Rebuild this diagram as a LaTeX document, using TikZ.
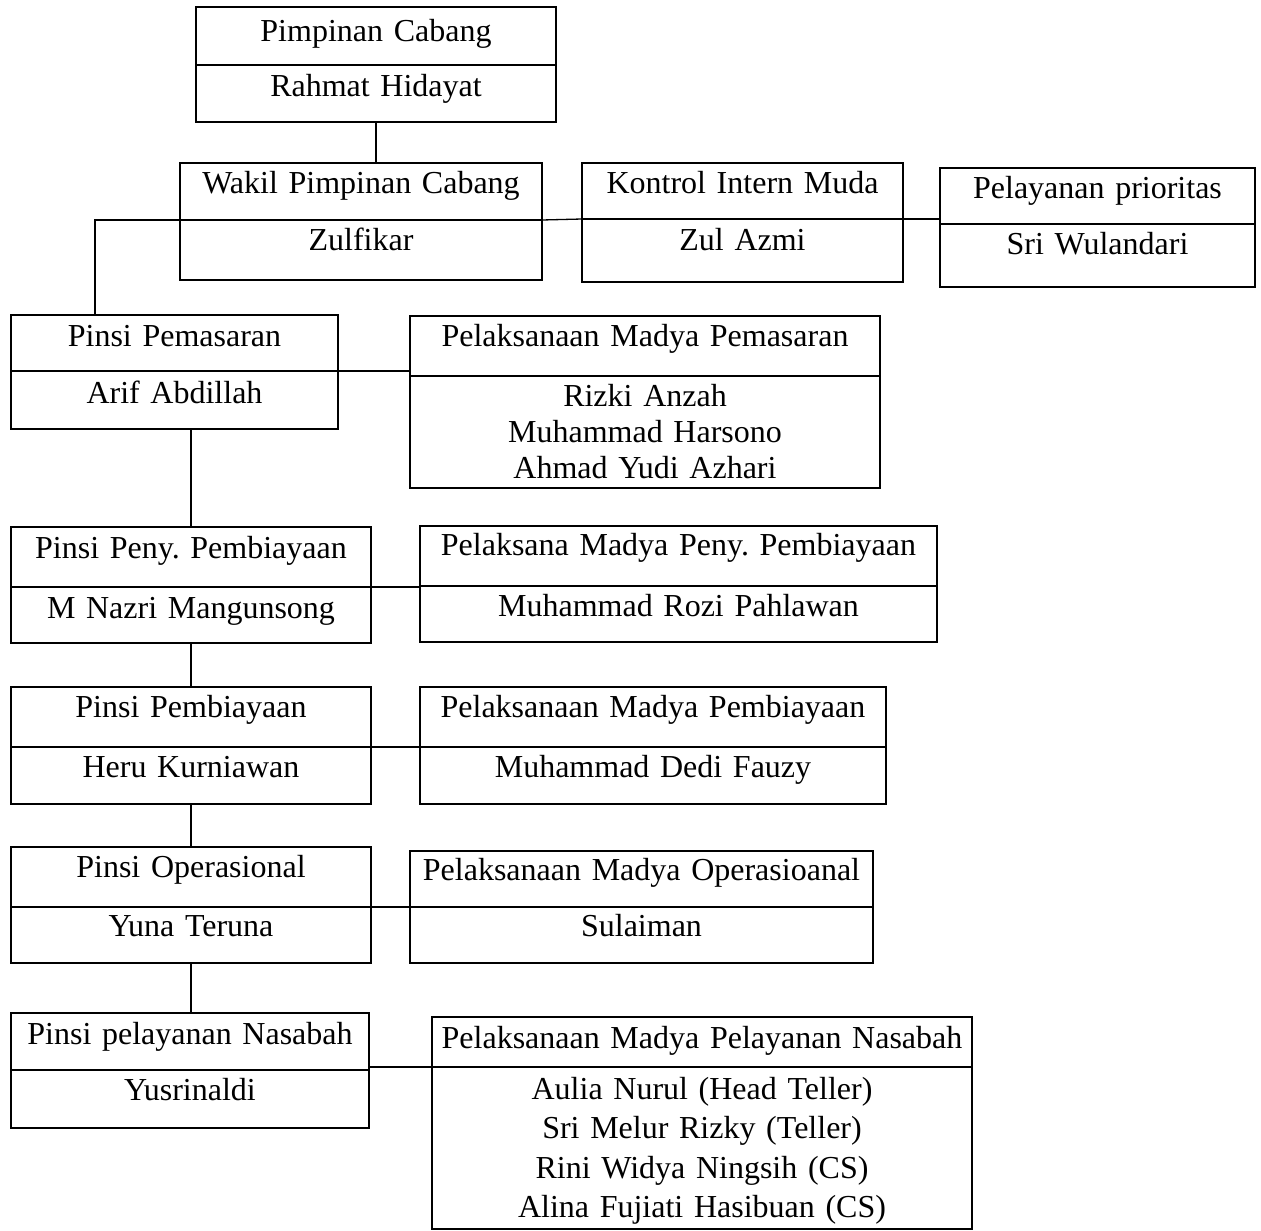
\documentclass[tikz,border=0pt]{standalone}
\usepackage{fontspec}
\setmainfont{Liberation Serif}
\usetikzlibrary{positioning}
\frenchspacing

\begin{document}
\begin{tikzpicture}[x=1pt,y=-1pt, every node/.style={font=\fontsize{32}{38}\selectfont},
  cell/.style={draw, line width=1.6pt, inner sep=0pt, outer sep=0pt, align=center, anchor=north west},
  link/.style={line width=1.3pt}]
\useasboundingbox (0,0) rectangle (1261,1231);

% top of the tree
\node[cell, text width=360pt, text height=35pt, text depth=23pt] (pc-h) at (196,7) {Pimpinan Cabang};
\node[cell, text width=360pt, text height=31pt, text depth=26pt, below=0pt of pc-h] (pc-b) {Rahmat Hidayat};

\node[cell, text width=362pt, text height=30pt, text depth=27pt] (wpc-h) at (180,163) {Wakil Pimpinan Cabang};
\node[cell, text width=362pt, text height=30pt, text depth=30pt, below=0pt of wpc-h] (wpc-b) {Zulfikar};

\node[cell, text width=321pt, text height=30pt, text depth=26pt] (kim-h) at (582,163) {Kontrol Intern Muda};
\node[cell, text width=321pt, text height=31pt, text depth=32pt, below=0pt of kim-h] (kim-b) {Zul Azmi};

\node[cell, text width=315pt, text height=30pt, text depth=26pt] (ppr-h) at (940,168) {Pelayanan prioritas};
\node[cell, text width=315pt, text height=30pt, text depth=33pt, below=0pt of ppr-h] (ppr-b) {Sri Wulandari};

% pinsi column
\node[cell, text width=327pt, text height=31pt, text depth=25pt] (pem-h) at (11,315) {Pinsi Pemasaran};
\node[cell, text width=327pt, text height=32pt, text depth=26pt, below=0pt of pem-h] (pem-b) {Arif Abdillah};

\node[cell, text width=360pt, text height=31pt, text depth=29pt] (pny-h) at (11,527) {Pinsi Peny. Pembiayaan};
\node[cell, text width=360pt, text height=31pt, text depth=25pt, below=0pt of pny-h] (pny-b) {M Nazri Mangunsong};

\node[cell, text width=360pt, text height=30pt, text depth=30pt] (pb-h) at (11,687) {Pinsi Pembiayaan};
\node[cell, text width=360pt, text height=30pt, text depth=27pt, below=0pt of pb-h] (pb-b) {Heru Kurniawan};

\node[cell, text width=360pt, text height=30pt, text depth=30pt] (po-h) at (11,847) {Pinsi Operasional};
\node[cell, text width=360pt, text height=29pt, text depth=27pt, below=0pt of po-h] (po-b) {Yuna Teruna};

\node[cell, text width=358pt, text height=31pt, text depth=26pt] (pn-h) at (11,1013) {Pinsi pelayanan Nasabah};
\node[cell, text width=358pt, text height=30pt, text depth=28pt, below=0pt of pn-h] (pn-b) {Yusrinaldi};

% pelaksana column
\node[cell, text width=470pt, text height=30pt, text depth=30pt] (pmp-h) at (410,316) {Pelaksanaan Madya Pemasaran};
\node[cell, text width=470pt, text height=30pt, text depth=82pt, below=0pt of pmp-h,
  font=\fontsize{32}{36}\selectfont] (pmp-b) {Rizki Anzah\\Muhammad Harsono\\Ahmad Yudi Azhari};

\node[cell, text width=517pt, text height=29pt, text depth=31pt] (pmpp-h) at (420,526) {Pelaksana Madya Peny. Pembiayaan};
\node[cell, text width=517pt, text height=30pt, text depth=26pt, below=0pt of pmpp-h] (pmpp-b) {Muhammad Rozi Pahlawan};

\node[cell, text width=466pt, text height=30pt, text depth=30pt] (pmb-h) at (420,687) {Pelaksanaan Madya Pembiayaan};
\node[cell, text width=466pt, text height=30pt, text depth=27pt, below=0pt of pmb-h] (pmb-b) {Muhammad Dedi Fauzy};

\node[cell, text width=463pt, text height=29pt, text depth=27pt] (pmo-h) at (410,851) {Pelaksanaan Madya Operasioanal};
\node[cell, text width=463pt, text height=29pt, text depth=27pt, below=0pt of pmo-h] (pmo-b) {Sulaiman};

\node[cell, text width=540pt, text height=31pt, text depth=19pt] (pmn-h) at (432,1017) {Pelaksanaan Madya Pelayanan Nasabah};
\node[cell, text width=540pt, text height=32pt, text depth=130pt, below=0pt of pmn-h,
  font=\fontsize{32}{39.5}\selectfont] (pmn-b) {Aulia Nurul (Head Teller)\\Sri Melur Rizky (Teller)\\Rini Widya Ningsih (CS)\\Alina Fujiati Hasibuan (CS)};

% lines
\draw[link] (pc-b.south) -- (pc-b.south |- wpc-h.north);
\draw[link] (wpc-h.south west) -| ([xshift=84pt]pem-h.north west);
\draw[link] (wpc-h.south east) -- (kim-h.south west);
\draw[link] (kim-h.south east) -- (kim-h.south east -| ppr-h.west);

\draw[link] (pem-h.south east) -- (pem-h.south east -| pmp-h.west);
\draw[link] (pny-h.north) -- (pny-h.north |- pem-b.south);
\draw[link] (pny-h.south east) -- (pny-h.south east -| pmpp-h.west);
\draw[link] (pny-b.south) -- (pb-h.north);
\draw[link] (pb-h.south east) -- (pmb-h.south west);
\draw[link] (pb-b.south) -- (po-h.north);
\draw[link] (po-h.south east) -- (pmo-h.south west);
\draw[link] (po-b.south) -- (po-b.south |- pn-h.north);
\draw[link] (pmn-h.south west -| pn-h.east) -- (pmn-h.south west);
\end{tikzpicture}
\end{document}
